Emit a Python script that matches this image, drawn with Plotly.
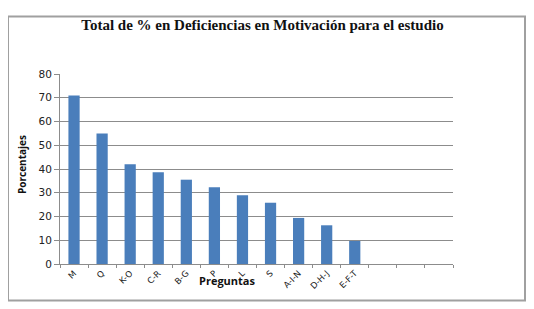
import plotly.graph_objects as go

categories = ["M", "Q", "K-O", "C-R", "B-G", "P", "L", "S", "A-I-N", "D-H-J", "E-F-T"]
values = [71, 55, 42, 38.6, 35.5, 32.3, 28.9, 25.8, 19.4, 16.3, 9.7]
empty_slots = [" ", "  ", "   "]
y_ticks = [0, 10, 20, 30, 40, 50, 60, 70, 80]

title_text = "Total de % en Deficiencias en Motivación para el estudio"
x_title = "Preguntas"
y_title = "Porcentajes"

# page body has a default 8px margin: shift the whole design by it
O = 8
W, H = 534 - O, 309 - O
L, R, T, B = 60 - O, 453 - O, 74 - O, 264 - O
pw, ph = R - L, B - T

def px(x):
    return (x - O - L) / pw

def py(y):
    return (B - (y - O)) / ph

x_all = categories + empty_slots
y_all = values + [None] * len(empty_slots)

fig = go.Figure()
fig.add_trace(go.Bar(x=x_all, y=y_all, marker=dict(color="#4a7ebb", line=dict(width=0)),
                     hoverinfo="x+y"))

grid = "#8c8c8c"
fig.update_layout(
    width=W, height=H,
    margin=dict(l=L, r=W - R, t=T, b=H - B, autoexpand=False),
    paper_bgcolor="white", plot_bgcolor="white",
    bargap=0.6, showlegend=False,
    title=dict(text="<b>%s</b>" % title_text, x=(262.5 - O) / W, xanchor="center",
               y=1 - (25 - O) / H, yanchor="middle",
               font=dict(family="Liberation Serif, Times New Roman, serif", size=15, color="#111")),
    font=dict(family="DejaVu Sans", color="#222"),
)
fig.update_xaxes(
    type="category", categoryorder="array", categoryarray=x_all,
    range=[-0.5, len(x_all) - 0.5],
    showline=True, linecolor=grid, linewidth=1,
    ticks="outside", tickson="boundaries", ticklen=3, tickcolor=grid,
    tickangle=-45, tickfont=dict(size=8.5, color="#222"),
    showgrid=False, automargin=False,
)
fig.update_yaxes(
    range=[0, 80], tickvals=y_ticks,
    showline=True, linecolor=grid, linewidth=1,
    ticks="outside", ticklen=5, tickcolor=grid,
    showgrid=True, gridcolor=grid, gridwidth=1,
    tickfont=dict(size=10.5, color="#222"),
    zeroline=False, automargin=False,
)
fig.add_annotation(text="<b>%s</b>" % y_title, xref="paper", yref="paper",
                   x=px(22), y=py(165), textangle=-90, showarrow=False,
                   xanchor="center", yanchor="middle",
                   font=dict(family="Open Sans", size=10, color="#111"))
fig.add_annotation(text="<b>%s</b>" % x_title, xref="paper", yref="paper",
                   x=px(227), y=py(280), showarrow=False,
                   xanchor="center", yanchor="middle",
                   font=dict(family="Open Sans", size=11, color="#111"))
fig.add_shape(type="rect", xref="paper", yref="paper",
              x0=px(8), x1=px(525), y0=py(300.5), y1=py(16.5),
              line=dict(color="#a0a0a0", width=2), layer="below")

fig.write_html("out.html")
